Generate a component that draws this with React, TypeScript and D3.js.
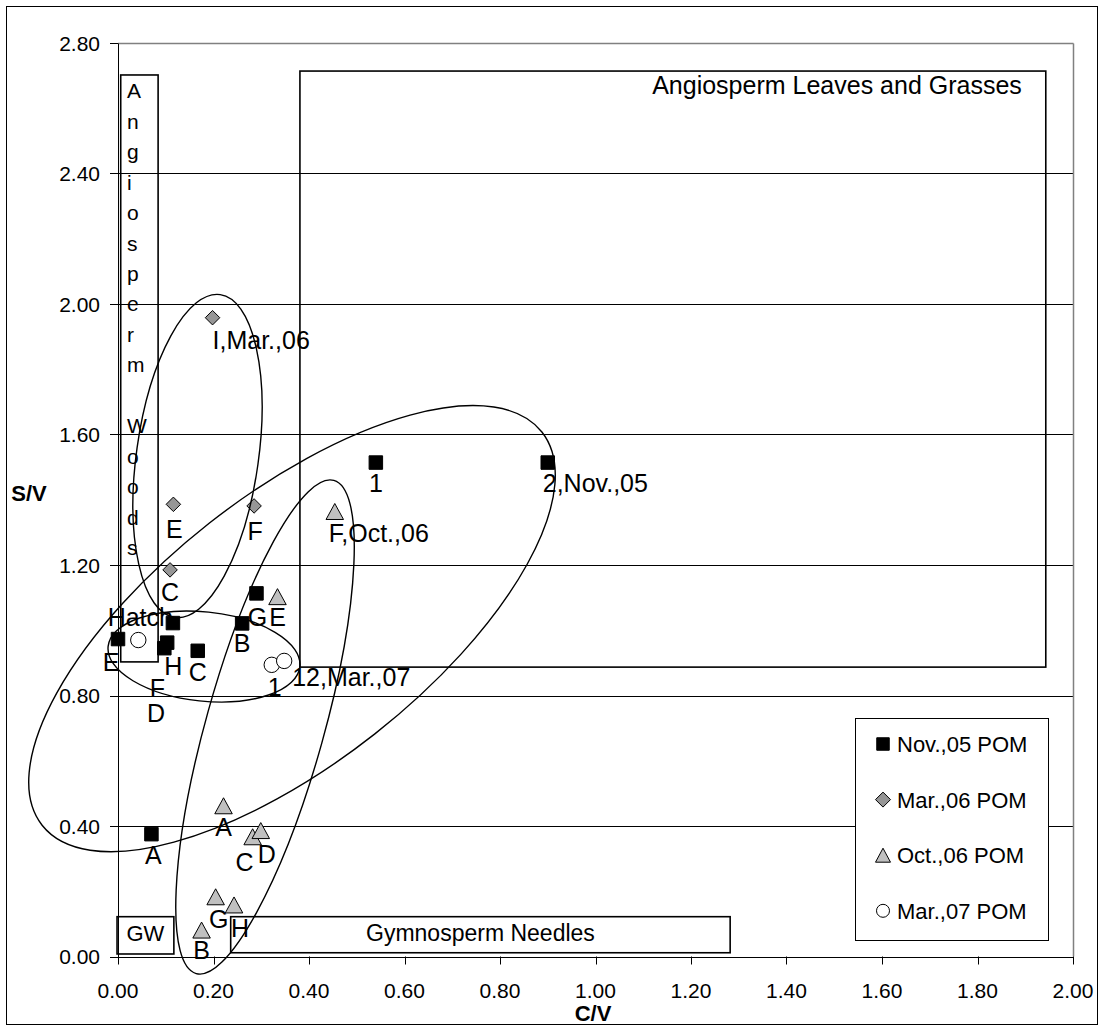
import React from 'react';
import * as d3 from 'd3';

// ---------- data ----------
const xTicks = [0, 0.2, 0.4, 0.6, 0.8, 1.0, 1.2, 1.4, 1.6, 1.8, 2.0];
const yTicks = [0, 0.4, 0.8, 1.2, 1.6, 2.0, 2.4, 2.8];

const nov05Labels = ['1', '2,Nov.,05', 'A', 'B', 'C', 'D', 'E', 'F', 'G', 'H'];
const nov05X = [0.54, 0.90, 0.07, 0.26, 0.167, 0.115, 0.0, 0.097, 0.29, 0.103];
const nov05Y = [1.514, 1.514, 0.375, 1.021, 0.937, 1.022, 0.973, 0.945, 1.113, 0.962];

const mar06Labels = ['I,Mar.,06', 'E', 'F', 'C'];
const mar06X = [0.198, 0.116, 0.285, 0.109];
const mar06Y = [1.958, 1.386, 1.381, 1.185];

const oct06Labels = ['F,Oct.,06', 'E', 'A', 'C', 'D', 'G', 'H', 'B'];
const oct06X = [0.454, 0.334, 0.221, 0.282, 0.299, 0.2045, 0.243, 0.175];
const oct06Y = [1.364, 1.103, 0.462, 0.367, 0.386, 0.183, 0.158, 0.081];

const mar07Labels = ['Hatch', '1', '12,Mar.,07'];
const mar07X = [0.0425, 0.322, 0.348];
const mar07Y = [0.970, 0.894, 0.906];

const seriesNames = ['Nov.,05 POM', 'Mar.,06 POM', 'Oct.,06 POM', 'Mar.,07 POM'];

// label nudges (px): [dx, dy, anchor]
type Nudge = [number, number, string];
const nov05Nudge: Nudge[] = [
  [0, 20, 'middle'], [-5, 20, 'start'], [2, 21, 'middle'], [0, 20, 'middle'], [0, 21, 'middle'],
  [-17, 90, 'middle'], [-7, 23, 'middle'], [-7, 40, 'middle'], [1, 24, 'middle'], [6, 23, 'middle'],
];
const mar06Nudge: Nudge[] = [[0, 22, 'start'], [1, 25, 'middle'], [1, 25, 'middle'], [0, 22, 'middle']];
const oct06Nudge: Nudge[] = [
  [-6, 22, 'start'], [0, 20, 'middle'], [0, 21, 'middle'], [-8, 25, 'middle'],
  [6, 23, 'middle'], [3, 22, 'middle'], [6, 23, 'middle'], [0, 20, 'middle'],
];
const mar07Nudge: Nudge[] = [[2, -23, 'middle'], [3, 22, 'middle'], [8, 16, 'start']];

// annotation boxes (data coords)
const boxes = [
  { x0: 0.0057, x1: 0.084, y0: 0.903, y1: 2.702 },
  { x0: 0.381, x1: 1.943, y0: 0.887, y1: 2.714 },
  { x0: -0.002, x1: 0.117, y0: 0.0077, y1: 0.122 },
  { x0: 0.236, x1: 1.282, y0: 0.0115, y1: 0.122 },
];
// ellipses: center in data coords, radii px, rotation deg
const ellipses = [
  { cx: 0.1665, cy: 1.534, rx: 61, ry: 163, rot: 8 },
  { cx: 0.3644, cy: 1.005, rx: 318, ry: 134, rot: -38.2 },
  { cx: 0.1801, cy: 0.9195, rx: 96.4, ry: 44.6, rot: 6 },
  { cx: 0.3079, cy: 0.7034, rx: 59, ry: 256, rot: 15.6 },
];

const woodsLetters = ['A', 'n', 'g', 'i', 'o', 's', 'p', 'e', 'r', 'm', '', 'W', 'o', 'o', 'd', 's'];

// ---------- drawing ----------
const W = 1104;
const H = 1030;
const FONT = 'Liberation Sans, Arial, sans-serif';

const x = d3.scaleLinear().domain([0, 2]).range([118, 1073]);
const y = d3.scaleLinear().domain([0, 2.8]).range([956.5, 43]);

const squarePath = (s: number) => `M${-s / 2},${-s / 2}h${s}v${s}h${-s}Z`;
const diamondPath = (s: number) => `M0,${-s / 2}L${s / 2},0L0,${s / 2}L${-s / 2},0Z`;
const trianglePath = (w: number, h: number) => `M0,${-h / 2}L${w / 2},${h / 2}L${-w / 2},${h / 2}Z`;

type Marker = (size: 'plot' | 'legend') => React.ReactNode;
const markers: Marker[] = [
  (s) => <path d={squarePath(s === 'plot' ? 13.5 : 12.5)} fill="#000" stroke="#000" strokeWidth={1} />,
  (s) => <path d={diamondPath(s === 'plot' ? 14.5 : 15)} fill="#969696" stroke="#000" strokeWidth={1} />,
  (s) => <path d={s === 'plot' ? trianglePath(17.5, 16) : trianglePath(15, 14)} fill="#c0c0c0" stroke="#000" strokeWidth={1} />,
  (s) => <circle r={s === 'plot' ? 7.7 : 6.5} fill="#fff" stroke="#000" strokeWidth={1} />,
];

const allSeries = [
  { labels: nov05Labels, xs: nov05X, ys: nov05Y, nudge: nov05Nudge },
  { labels: mar06Labels, xs: mar06X, ys: mar06Y, nudge: mar06Nudge },
  { labels: oct06Labels, xs: oct06X, ys: oct06Y, nudge: oct06Nudge },
  { labels: mar07Labels, xs: mar07X, ys: mar07Y, nudge: mar07Nudge },
];

export default function App() {
  const fmt = d3.format('.2f');
  const crisp = (v: number) => Math.round(v) + 0.5;
  return (
    <svg width={W} height={H} style={{ position: 'absolute', left: 0, top: 0, background: '#fff' }}
      fontFamily={FONT}>
      <rect x={0} y={0} width={W} height={H} fill="#fff" />
      {/* chart border */}
      <rect x={6.5} y={6.5} width={1091} height={1018} fill="none" stroke="#000" strokeWidth={1} />

      {/* gridlines */}
      {yTicks.filter((t) => t > 0 && t < 2.8).map((t) => (
        <line key={'g' + t} x1={x(0)} x2={x(2)} y1={crisp(y(t))} y2={crisp(y(t))} stroke="#000" strokeWidth={1} />
      ))}
      {/* plot border */}
      <line x1={x(0)} x2={crisp(x(2))} y1={crisp(y(2.8))} y2={crisp(y(2.8))} stroke="#808080" strokeWidth={1.5} />
      <line x1={crisp(x(2))} x2={crisp(x(2))} y1={crisp(y(2.8))} y2={y(0)} stroke="#808080" strokeWidth={1.5} />

      {/* axes */}
      <line x1={crisp(x(0))} x2={crisp(x(0))} y1={crisp(y(2.8))} y2={crisp(y(0))} stroke="#000" strokeWidth={1} />
      <line x1={x(0)} x2={crisp(x(2))} y1={crisp(y(0))} y2={crisp(y(0))} stroke="#000" strokeWidth={1} />
      {yTicks.map((t) => (
        <g key={'yt' + t}>
          <line x1={x(0) - 8} x2={x(0)} y1={crisp(y(t))} y2={crisp(y(t))} stroke="#000" strokeWidth={1} />
          <text x={100} y={y(t) + 7.5} textAnchor="end" fontSize={21} fill="#000">{fmt(t)}</text>
        </g>
      ))}
      {xTicks.map((t) => (
        <g key={'xt' + t}>
          <line x1={crisp(x(t))} x2={crisp(x(t))} y1={y(0)} y2={y(0) + 8} stroke="#000" strokeWidth={1} />
          <text x={x(t)} y={997.5} textAnchor="middle" fontSize={21} fill="#000">{fmt(t)}</text>
        </g>
      ))}
      <text x={593} y={1021} textAnchor="middle" fontSize={22} fontWeight="bold">C/V</text>
      <text x={29} y={501} textAnchor="middle" fontSize={22} fontWeight="bold">S/V</text>

      {/* markers */}
      {allSeries.map((s, si) => s.xs.map((xv, i) => (
        <g key={`m${si}-${i}`} transform={`translate(${x(xv)},${y(s.ys[i])})`}>{markers[si]('plot')}</g>
      )))}
      {/* point labels */}
      {allSeries.map((s, si) => s.xs.map((xv, i) => {
        const [dx, dy, anchor] = s.nudge[i];
        return (
          <text key={`l${si}-${i}`} x={x(xv) + dx} y={y(s.ys[i]) + dy + 9} textAnchor={anchor}
            fontSize={25} fill="#000">{s.labels[i]}</text>
        );
      }))}

      {/* annotation boxes */}
      {boxes.map((b, i) => (
        <rect key={'b' + i} x={x(b.x0)} y={y(b.y1)} width={x(b.x1) - x(b.x0)} height={y(b.y0) - y(b.y1)}
          fill="none" stroke="#000" strokeWidth={1.6} />
      ))}
      {woodsLetters.map((ch, i) => (
        <text key={'w' + i} x={127} y={98.3 + i * 30.45} fontSize={21}>{ch}</text>
      ))}
      <text x={837} y={94} textAnchor="middle" fontSize={25}>Angiosperm Leaves and Grasses</text>
      <text x={(x(boxes[2].x0) + x(boxes[2].x1)) / 2} y={941} textAnchor="middle" fontSize={22}>GW</text>
      <text x={(x(boxes[3].x0) + x(boxes[3].x1)) / 2} y={941} textAnchor="middle" fontSize={23}>Gymnosperm Needles</text>

      {/* ellipses */}
      {ellipses.map((e, i) => (
        <ellipse key={'e' + i} cx={0} cy={0} rx={e.rx} ry={e.ry} fill="none" stroke="#000" strokeWidth={1.4}
          transform={`translate(${x(e.cx)},${y(e.cy)}) rotate(${e.rot})`} />
      ))}

      {/* legend */}
      <rect x={855.5} y={718.5} width={193} height={222} fill="#fff" stroke="#000" strokeWidth={1} />
      {seriesNames.map((n, i) => (
        <g key={'lg' + i} transform={`translate(0,${744 + i * 55.6})`}>
          <g transform="translate(883,0)">{markers[i]('legend')}</g>
          <text x={897} y={8} fontSize={22}>{n}</text>
        </g>
      ))}
    </svg>
  );
}
